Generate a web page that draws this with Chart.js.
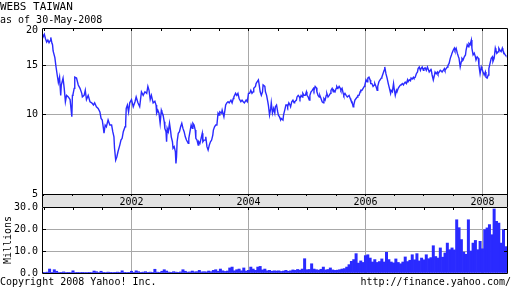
<!DOCTYPE html>
<html>
<head>
<meta charset="utf-8">
<title>WEBS TAIWAN</title>
<script src="https://cdn.jsdelivr.net/npm/chart.js@4.4.1/dist/chart.umd.min.js"></script>
<style>
  body { margin: 0; background: #fff; }
  #wrap { position: relative; width: 512px; height: 288px; overflow: hidden; font-family: "DejaVu Sans Mono", monospace; font-size: 10px; line-height: 10px; color: #000; }
  #wrap canvas { position: absolute; left: 0; top: 0; }
  .txt { position: absolute; white-space: pre; }
</style>
</head>
<body>
<div id="wrap">
  <canvas id="volumeChart" width="512" height="288"></canvas>
  <canvas id="priceChart" width="512" height="288"></canvas>
  <div class="txt" style="left:0;top:1px;font-size:11px;line-height:11px">WEBS TAIWAN</div>
  <div class="txt" style="left:0;top:15px">as of 30-May-2008</div>
  <div class="txt" style="left:0;top:277px">Copyright 2008 Yahoo! Inc.</div>
  <div class="txt" style="right:1px;top:277px">http://finance.yahoo.com/</div>
</div>
<script>
// Kursdaten (Jahr als Dezimalzahl, Schlusskurs in USD)
const priceDates = [
  2000.47, 2000.49, 2000.51, 2000.53, 2000.55, 2000.57, 2000.59, 2000.61, 2000.62, 2000.64,
  2000.65, 2000.66, 2000.69, 2000.71, 2000.73, 2000.75, 2000.77, 2000.79, 2000.80, 2000.83,
  2000.85, 2000.87, 2000.89, 2000.92, 2000.95, 2000.98, 2000.99, 2001.00, 2001.02, 2001.03,
  2001.06, 2001.09, 2001.12, 2001.15, 2001.16, 2001.19, 2001.21, 2001.23, 2001.26, 2001.29,
  2001.32, 2001.35, 2001.37, 2001.40, 2001.43, 2001.46, 2001.48, 2001.50, 2001.52, 2001.53,
  2001.55, 2001.57, 2001.60, 2001.63, 2001.66, 2001.68, 2001.70, 2001.71, 2001.73, 2001.75,
  2001.77, 2001.80, 2001.82, 2001.84, 2001.86, 2001.89, 2001.90, 2001.91, 2001.93, 2001.95,
  2001.97, 2002.00, 2002.03, 2002.06, 2002.08, 2002.11, 2002.14, 2002.17, 2002.20, 2002.23,
  2002.26, 2002.28, 2002.30, 2002.32, 2002.34, 2002.37,
  2002.40, 2002.42, 2002.43, 2002.45, 2002.47, 2002.49, 2002.51, 2002.52, 2002.54, 2002.56,
  2002.57, 2002.59, 2002.60, 2002.61, 2002.63, 2002.65, 2002.67, 2002.68, 2002.70, 2002.71,
  2002.73, 2002.75, 2002.76, 2002.77, 2002.78, 2002.80, 2002.82, 2002.84, 2002.86, 2002.88,
  2002.90, 2002.92, 2002.94, 2002.97, 2002.98, 2003.00, 2003.02, 2003.04, 2003.05, 2003.07,
  2003.09, 2003.10, 2003.12, 2003.14, 2003.15, 2003.17, 2003.19, 2003.21, 2003.22, 2003.24,
  2003.26, 2003.27, 2003.29, 2003.31, 2003.33, 2003.35, 2003.37, 2003.39, 2003.40, 2003.42,
  2003.44, 2003.46, 2003.48, 2003.50, 2003.51, 2003.54, 2003.55, 2003.58, 2003.59, 2003.61,
  2003.63, 2003.65, 2003.67, 2003.70, 2003.72, 2003.74, 2003.75, 2003.78, 2003.80, 2003.82,
  2003.84, 2003.87, 2003.89, 2003.91, 2003.93, 2003.96, 2003.98, 2004.00, 2004.02, 2004.04,
  2004.06, 2004.08, 2004.09, 2004.12, 2004.13, 2004.15, 2004.17, 2004.18, 2004.20, 2004.22,
  2004.24, 2004.25, 2004.28, 2004.29, 2004.31, 2004.33, 2004.34, 2004.36, 2004.38, 2004.39,
  2004.41, 2004.43, 2004.45, 2004.46, 2004.48, 2004.50, 2004.51, 2004.53, 2004.55, 2004.56,
  2004.59, 2004.60, 2004.62, 2004.64, 2004.66, 2004.67, 2004.69, 2004.71, 2004.72, 2004.74,
  2004.76, 2004.78, 2004.79, 2004.82, 2004.83, 2004.85, 2004.87, 2004.88, 2004.90, 2004.92,
  2004.93, 2004.95, 2004.97, 2004.99, 2005.00, 2005.02, 2005.04, 2005.05, 2005.07, 2005.09,
  2005.11, 2005.12, 2005.14, 2005.16, 2005.17, 2005.19, 2005.21, 2005.22, 2005.24, 2005.26,
  2005.28, 2005.29, 2005.31, 2005.33, 2005.34, 2005.36, 2005.38, 2005.40, 2005.41, 2005.43,
  2005.45, 2005.46, 2005.48, 2005.50, 2005.51, 2005.53, 2005.55, 2005.57, 2005.58, 2005.60,
  2005.62, 2005.63, 2005.65, 2005.67, 2005.69, 2005.70, 2005.72, 2005.74, 2005.75, 2005.77,
  2005.79, 2005.80, 2005.82, 2005.84, 2005.86, 2005.87, 2005.89, 2005.91, 2005.92, 2005.94,
  2005.96, 2005.98, 2005.99, 2006.01, 2006.03, 2006.04, 2006.06, 2006.08, 2006.09, 2006.11,
  2006.13, 2006.15, 2006.16, 2006.18, 2006.20, 2006.21, 2006.23, 2006.25, 2006.27, 2006.28,
  2006.30, 2006.32, 2006.33, 2006.35, 2006.37, 2006.39,
  2006.41, 2006.43, 2006.44, 2006.46, 2006.48, 2006.49, 2006.51, 2006.53, 2006.54, 2006.56,
  2006.58, 2006.60, 2006.61, 2006.63, 2006.65, 2006.66, 2006.68, 2006.70, 2006.72, 2006.73,
  2006.75, 2006.77, 2006.78, 2006.80, 2006.82, 2006.83, 2006.85, 2006.87, 2006.89, 2006.90,
  2006.92, 2006.94, 2006.95, 2006.97, 2006.99, 2007.00, 2007.02, 2007.04, 2007.06, 2007.07,
  2007.09, 2007.11, 2007.12, 2007.14, 2007.16, 2007.18, 2007.19, 2007.21, 2007.23, 2007.24,
  2007.26, 2007.28, 2007.30, 2007.31, 2007.33, 2007.35, 2007.36, 2007.38, 2007.40, 2007.41,
  2007.43, 2007.45, 2007.47, 2007.48, 2007.50, 2007.52, 2007.53, 2007.55, 2007.57, 2007.59,
  2007.60, 2007.62, 2007.64, 2007.65, 2007.67, 2007.69, 2007.71, 2007.72, 2007.74, 2007.76,
  2007.77, 2007.79, 2007.81, 2007.82, 2007.84, 2007.86, 2007.88, 2007.89, 2007.91, 2007.93,
  2007.94, 2007.96, 2007.98, 2007.99, 2008.01, 2008.03, 2008.05, 2008.06, 2008.08, 2008.10,
  2008.11, 2008.13, 2008.15, 2008.17, 2008.18, 2008.20, 2008.22, 2008.23, 2008.25, 2008.27,
  2008.28, 2008.30, 2008.32, 2008.34, 2008.35, 2008.37, 2008.39, 2008.40
];
const priceValues = [
  19.6, 19.0, 19.4, 18.7, 18.2, 18.5, 18.1, 18.4, 18.9, 18.0,
  17.8, 16.9, 16.0, 14.8, 13.85, 13.0, 13.6, 11.7, 12.75, 13.5,
  12.4, 11.1, 11.7, 11.55, 11.3, 9.8, 11.7, 11.8, 12.4, 13.6,
  13.5, 12.75, 12.4, 11.9, 11.55, 11.7, 12.2, 11.3, 11.7, 11.1,
  11.0, 10.8, 11.0, 10.65, 10.5, 10.2, 9.67, 9.54, 8.9, 8.55,
  9.15, 9.02, 9.54, 9.15, 9.15, 8.66, 8.3, 7.55, 6.85, 7.04,
  7.35, 7.75, 8.08, 8.2, 8.66, 9.02, 9.28, 10.5, 10.8, 10.2,
  11.0, 11.3, 10.65, 11.1, 11.55, 11.0, 10.65, 12.05, 11.7, 12.05,
  11.9, 12.6, 12.2, 11.3, 11.7, 11.0,
  11.15, 10.8, 10.1, 10.35, 10.1, 9.28, 10.35, 10.2, 9.95, 9.4,
  8.9, 8.66, 7.97, 8.9, 8.66, 9.28, 8.66, 8.3, 7.97, 7.55,
  7.65, 7.35, 6.66, 7.04, 7.97, 8.55, 8.66, 9.02, 9.28, 8.9,
  8.66, 8.3, 8.08, 7.86, 8.2, 8.66, 9.15, 8.9, 9.28, 9.15,
  8.78, 8.2, 8.08, 7.75, 7.97, 7.86, 8.2, 8.55, 7.97, 8.08,
  8.08, 8.3, 7.65, 7.44, 7.75, 7.97, 8.08, 8.42, 8.78, 9.02,
  9.15, 9.15, 10.1, 9.95, 10.2, 10.1, 10.35, 9.8, 10.1, 10.8,
  11.0, 11.1, 11.0, 11.25, 11.0, 11.4, 11.55, 11.9, 11.7, 11.9,
  11.4, 11.1, 11.25, 11.1, 11.0, 11.25, 11.1, 11.9, 11.9, 12.2,
  11.9, 12.05, 12.4, 12.6, 12.9, 13.1, 13.3, 12.9, 12.05, 11.7,
  12.05, 12.75, 12.6, 12.05, 11.7, 11.1, 10.8, 9.95, 10.5, 11.0,
  10.1, 10.5, 10.1, 10.65, 10.8, 10.2, 9.95, 9.8, 9.54, 9.67,
  9.54, 9.95, 10.35, 10.8, 10.8, 10.65, 11.0, 10.8, 10.65, 11.1,
  11.25, 11.0, 11.1, 11.25, 11.55, 11.7, 11.55, 11.4, 11.7, 11.55,
  11.9, 11.7, 11.7, 12.05, 11.7, 11.55, 11.25, 11.7, 12.05, 12.2,
  12.4, 12.2, 12.6, 12.45, 12.05, 11.7, 11.55, 11.7, 11.4, 11.1,
  11.0, 11.4, 11.25, 11.7, 11.9, 11.55, 11.7, 11.9, 12.2, 12.4,
  12.05, 12.2, 12.05, 12.4, 12.6, 12.4, 12.6, 12.4, 12.2, 12.4,
  11.9, 11.7, 11.9, 11.7, 11.55, 11.55, 11.7, 11.4, 11.25, 11.1,
  10.65, 10.8, 11.25, 11.4, 11.55, 11.7, 11.7, 12.05, 12.2, 12.2,
  12.4, 12.6, 12.75, 13.3, 13.1, 13.5, 13.6, 13.3, 12.9, 12.9,
  12.6, 12.75, 12.9, 12.6, 12.2, 12.6, 13.1, 13.3, 13.5, 13.6,
  14.0, 14.4, 14.8, 14.0, 13.5, 12.9,
  12.4, 11.9, 12.2, 12.05, 12.9, 12.4, 11.7, 12.2, 12.05, 12.4,
  12.6, 12.75, 12.75, 12.9, 12.75, 12.9, 13.05, 12.9, 13.3, 13.1,
  13.3, 13.2, 13.5, 13.4, 13.6, 13.5, 13.6, 14.0, 14.2, 14.6,
  14.8, 14.4, 14.6, 14.8, 14.4, 14.6, 14.7, 14.4, 14.8, 14.6,
  14.2, 14.4, 14.6, 13.85, 13.3, 13.85, 14.2, 14.0, 14.2, 14.0,
  14.2, 14.4, 14.3, 14.2, 14.4, 14.6, 14.4, 14.6, 14.8, 15.0,
  15.25, 15.9, 16.35, 16.6, 17.0, 17.3, 17.0, 17.3, 16.6, 16.1,
  15.9, 14.8, 15.5, 15.9, 15.7, 16.1, 16.35, 17.0, 17.8, 17.5,
  18.0, 17.8, 18.5, 17.3, 16.35, 16.6, 16.1, 15.7, 16.1, 15.9,
  15.0, 14.0, 14.8, 14.6, 14.2, 13.85, 14.2, 13.6, 13.5, 13.85,
  14.6, 15.25, 15.9, 16.1, 15.5, 15.9, 17.3, 17.0, 16.6, 16.8,
  17.3, 17.0, 16.8, 17.3, 17.0, 16.6, 16.35, 16.25
];

// Umsatz in Millionen, ein Balken alle 0,04 Jahre ab volStart
const volStart = 2000.48;
const volStep = 0.04;
const volumeValues = [
  0.3, 0.2, 0.4, 1.8, 0.3, 1.5, 0.8, 0.2, 0.3, 0.5, 0.2, 0.3, 0.2,
  1.0, 0.2, 0.3, 0.2, 0.3, 0.2, 0.2, 0.3, 0.2, 0.9, 0.6, 0.2, 0.8,
  0.3, 0.2, 0.4, 0.3, 0.2, 0.3, 0.4, 0.3, 1.0, 0.3, 0.2, 0.3, 0.8,
  0.3, 1.0, 0.6, 0.3, 0.4, 0.6, 0.3, 0.4, 0.3, 1.7, 0.4, 0.3,
  0.8, 1.5, 0.9, 0.4, 0.3, 0.6, 0.4, 0.3, 0.5, 1.5, 0.8, 0.4, 0.5,
  0.9, 0.5, 0.6, 1.2, 0.5, 0.6, 0.5, 0.9, 0.6, 1.2, 1.5, 0.8,
  1.8, 1.0, 0.7, 0.9, 2.3, 2.7, 1.0, 1.5, 1.8, 1.0, 2.3, 0.9, 1.2,
  2.7, 1.8, 1.2, 2.7, 3.0, 1.4, 1.8, 1.0, 1.2, 0.8, 1.0, 0.9,
  1.0, 0.7, 0.9, 1.2, 0.8, 1.0, 1.4, 1.2, 1.6, 1.3, 1.8, 6.5, 1.5,
  1.6, 4.2, 1.8, 1.5, 1.3, 1.7, 2.7, 1.4, 1.6, 2.3, 1.4, 1.2,
  1.3, 1.5, 1.8, 2.0, 2.7, 3.8, 5.3, 6.1, 8.8, 4.5, 5.5, 4.8, 7.9,
  8.3, 6.8, 5.0, 6.1, 4.8, 5.2, 6.4, 5.0, 9.4, 6.1, 5.0, 4.6,
  6.4, 4.8, 4.2, 5.0, 7.3, 5.2, 5.8, 8.3, 6.0, 8.8, 5.5, 6.8, 6.0,
  8.3, 6.5, 7.0, 12.4, 7.5, 6.8, 11.4, 7.2, 9.1, 13.6, 10.6, 11.4,
  10.5, 24.2, 20.6, 15.2, 9.5, 8.5, 24.2, 10.0, 13.6, 14.8, 10.6, 14.4, 11.0,
  19.7, 20.5, 22.0, 17.4, 29.1, 23.5, 22.7, 13.6, 19.7, 12.0
];

// Achsen
const xMin = 2000.47;
const xMax = 2008.42;
const yearLabels = [2002, 2004, 2006, 2008];
const priceTicks = [5, 10, 15, 20];
const priceGrid = [10, 15];
const priceMin = 5.17;
const priceMax = 20.44;
const volumeTicks = [0, 10, 20, 30];
const volumeGrid = [10, 20];

const blau = '#2a2aff';
const grau = '#a8a8a8';
const band = '#e2e2e2';

Chart.defaults.font.family = '"DejaVu Sans Mono", monospace';
Chart.defaults.font.size = 10;
Chart.defaults.color = '#000';

// Halbjahres-Striche
const halfYears = [];
for (let j = 4001; j <= 4016; j++) halfYears.push(j / 2);

function xAxis(withLabels, height) {
  return {
    type: 'linear',
    min: xMin,
    max: xMax,
    offset: false,
    afterBuildTicks: s => { s.ticks = halfYears.map(v => ({ value: v })); },
    afterFit: s => { s.height = height; s.paddingLeft = 0; s.paddingRight = 0; },
    border: { display: false },
    grid: {
      offset: false,
      color: c => (c.tick && yearLabels.includes(c.tick.value)) ? grau : 'rgba(0,0,0,0)',
      tickColor: '#000',
      drawTicks: withLabels,
      tickLength: 2
    },
    ticks: {
      display: withLabels,
      autoSkip: false,
      maxRotation: 0,
      minRotation: 0,
      padding: 0,
      callback: v => yearLabels.includes(v) ? String(v) : ''
    }
  };
}

// Rahmen und kleine Striche innen am Rand
function frame(yTicks, bandBelow) {
  return {
    id: 'frame',
    beforeDraw(chart) {
      const a = chart.chartArea;
      if (bandBelow) {
        chart.ctx.fillStyle = band;
        chart.ctx.fillRect(a.left, a.bottom, a.right - a.left, bandBelow);
      }
    },
    afterDraw(chart) {
      const a = chart.chartArea;
      const ctx = chart.ctx;
      ctx.save();
      ctx.strokeStyle = '#000';
      ctx.lineWidth = 1;
      ctx.beginPath();
      ctx.rect(a.left + 0.5, a.top + 0.5, a.right - a.left, a.bottom - a.top);
      if (bandBelow) {
        ctx.moveTo(a.left + 0.5, a.bottom);
        ctx.lineTo(a.left + 0.5, a.bottom + bandBelow);
        ctx.moveTo(a.right + 0.5, a.bottom);
        ctx.lineTo(a.right + 0.5, a.bottom + bandBelow);
      }
      const xs = chart.scales.x;
      halfYears.forEach(v => {
        const px = Math.round(xs.getPixelForValue(v)) + 0.5;
        ctx.moveTo(px, a.top);
        ctx.lineTo(px, a.top + 3);
      });
      const ys = chart.scales.y;
      yTicks.forEach(v => {
        const py = Math.round(ys.getPixelForValue(v)) + 0.5;
        ctx.moveTo(a.left, py);
        ctx.lineTo(a.left + 4, py);
        ctx.moveTo(a.right - 3, py);
        ctx.lineTo(a.right + 1, py);
      });
      ctx.stroke();
      ctx.restore();
    }
  };
}

// Kursdiagramm
new Chart(document.getElementById('priceChart'), {
  type: 'line',
  data: {
    datasets: [{
      data: priceDates.map((d, i) => ({ x: d, y: priceValues[i] })),
      borderColor: blau,
      borderWidth: 1.4,
      pointRadius: 0,
      tension: 0
    }]
  },
  options: {
    responsive: false,
    animation: false,
    events: [],
    layout: { padding: { top: 28, right: 5, left: 0, bottom: 0 } },
    plugins: { legend: { display: false }, tooltip: { enabled: false } },
    scales: {
      x: xAxis(true, 94),
      y: {
        type: 'logarithmic',
        min: priceMin,
        max: priceMax,
        afterBuildTicks: s => { s.ticks = priceTicks.map(v => ({ value: Math.max(v, priceMin) })); },
        afterFit: s => { s.width = 42; s.paddingTop = 0; s.paddingBottom = 0; },
        border: { display: false },
        grid: {
          color: c => (c.tick && priceGrid.includes(c.tick.value)) ? grau : 'rgba(0,0,0,0)',
          drawTicks: false
        },
        ticks: { padding: 4, callback: v => String(Math.round(v)) }
      }
    }
  },
  plugins: [frame(priceGrid, 13)]
});

// Umsatzdiagramm
new Chart(document.getElementById('volumeChart'), {
  type: 'bar',
  data: {
    datasets: [{
      data: volumeValues.map((v, i) => ({ x: volStart + i * volStep, y: v })),
      backgroundColor: blau,
      borderWidth: 0,
      barPercentage: 1,
      categoryPercentage: 1
    }]
  },
  options: {
    responsive: false,
    animation: false,
    events: [],
    layout: { padding: { top: 207, right: 5, left: 0, bottom: 0 } },
    plugins: { legend: { display: false }, tooltip: { enabled: false } },
    scales: {
      x: xAxis(false, 15),
      y: {
        min: 0,
        max: 30,
        afterBuildTicks: s => { s.ticks = volumeTicks.map(v => ({ value: v })); },
        afterFit: s => { s.width = 42; s.paddingTop = 0; s.paddingBottom = 0; },
        border: { display: false },
        title: { display: true, text: 'Millions', padding: { top: 2, bottom: 0 } },
        grid: {
          color: c => (c.tick && volumeGrid.includes(c.tick.value)) ? grau : 'rgba(0,0,0,0)',
          drawTicks: false
        },
        ticks: { padding: 4, callback: v => v.toFixed(1) }
      }
    }
  },
  plugins: [frame(volumeGrid, 0)]
});
</script>
</body>
</html>
